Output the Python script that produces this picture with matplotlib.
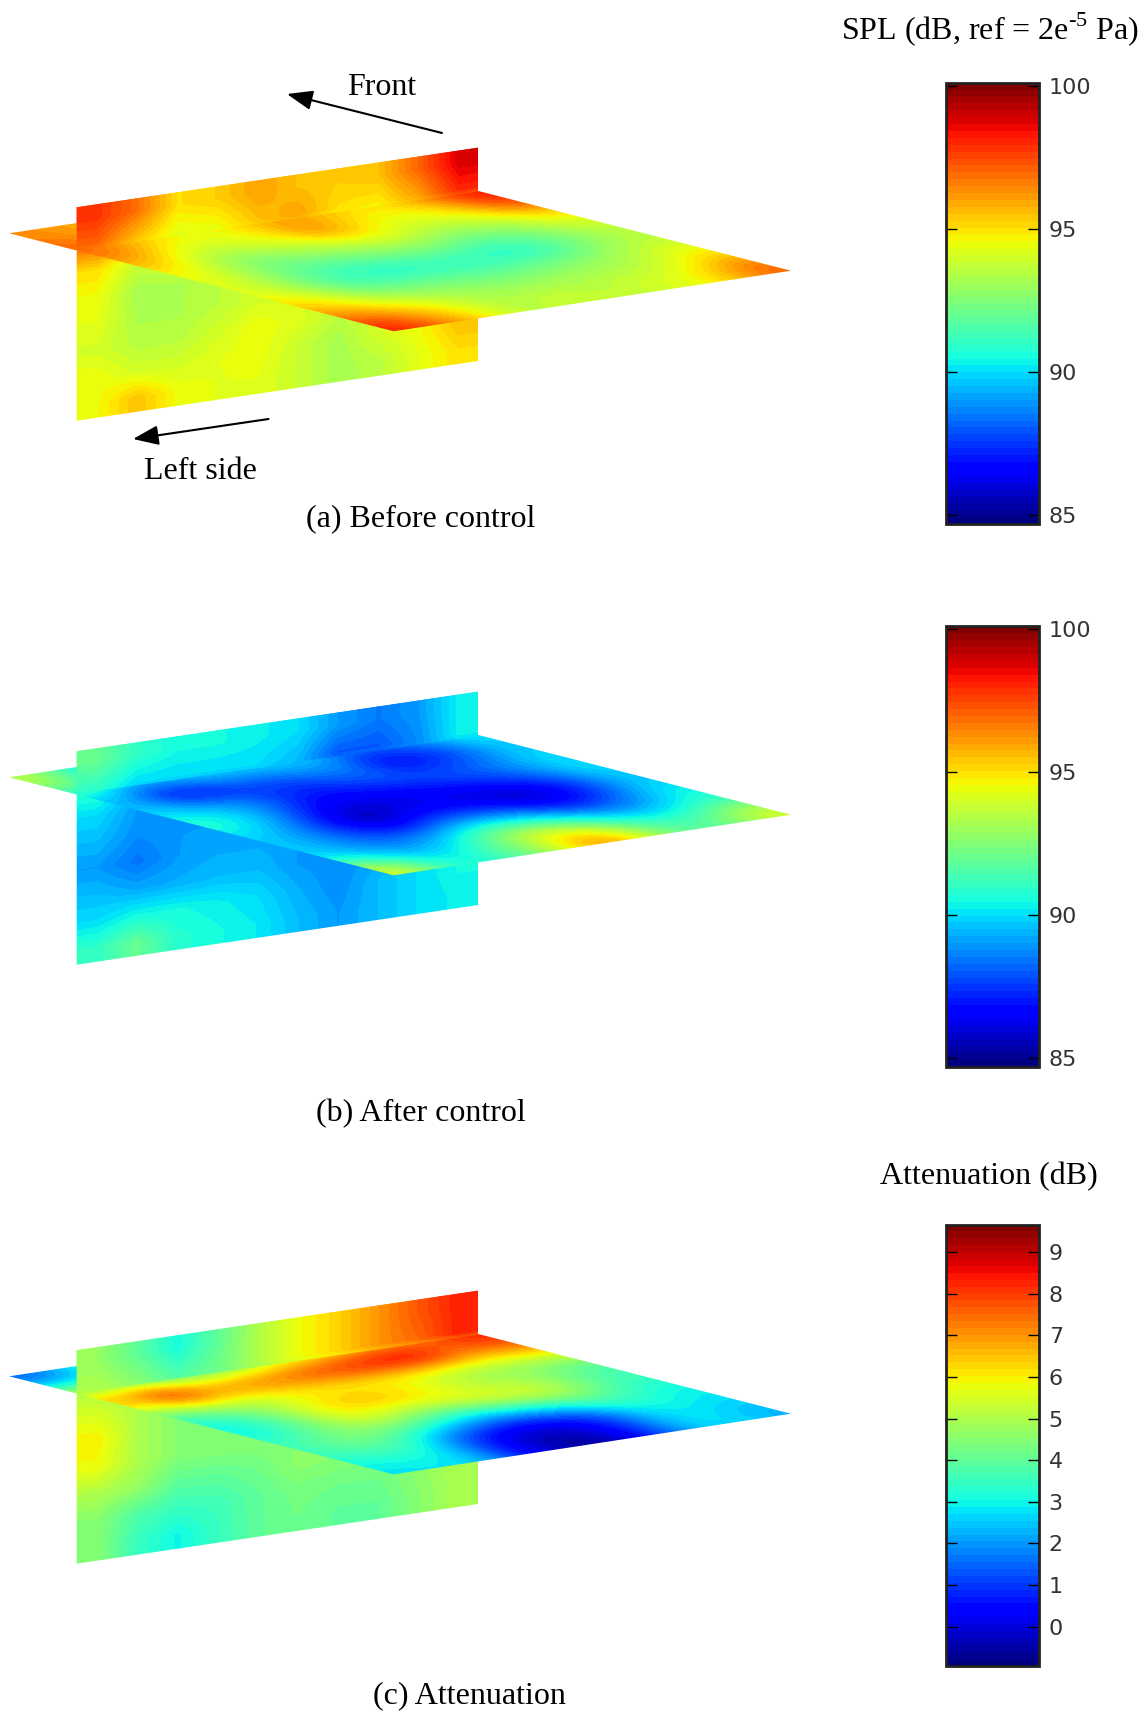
import numpy as np
import matplotlib
matplotlib.use('Agg')
import matplotlib.pyplot as plt
from matplotlib.cm import ScalarMappable
from matplotlib.colors import Normalize
from matplotlib.patches import Polygon
from matplotlib.transforms import Affine2D

plt.rcParams['font.family'] = ['Liberation Serif', 'DejaVu Serif']
plt.rcParams['mathtext.fontset'] = 'custom'
plt.rcParams['mathtext.rm'] = 'Liberation Serif'

# horizontal plane values, rows go from the back edge to the front edge
before_floor = [
    [96.3, 96.0, 95.5, 95.0, 95.5, 96.0, 96.5, 96.0, 96.0, 96.5, 98.5],
    [97.2, 96.0, 94.6, 94.3, 95.0, 95.8, 95.8, 94.9, 95.0, 96.5, 98.2],
    [96.2, 94.5, 94.0, 94.3, 95.0, 96.8, 95.3, 94.4, 94.6, 95.5, 97.8],
    [94.8, 93.5, 92.5, 93.3, 93.5, 94.0, 94.2, 93.5, 93.5, 94.0, 95.0],
    [94.3, 93.0, 92.0, 91.8, 92.2, 92.5, 92.5, 91.8, 92.0, 92.8, 93.8],
    [94.0, 92.8, 91.2, 90.7, 90.5, 91.0, 90.7, 90.5, 91.3, 92.5, 93.3],
    [95.0, 93.5, 92.3, 92.2, 92.3, 91.8, 92.0, 92.5, 92.8, 93.5, 94.0],
    [96.0, 95.0, 94.2, 93.5, 93.0, 93.0, 93.3, 93.3, 93.5, 94.0, 95.2],
    [98.0, 96.5, 95.0, 93.5, 93.6, 94.0, 93.5, 94.0, 94.3, 95.4, 97.0],
]
after_floor = [
    [93.5, 91.0, 90.0, 90.0, 90.0, 90.0, 90.0, 90.0, 90.0, 90.0, 90.5],
    [91.0, 89.5, 89.5, 90.0, 90.0, 90.0, 89.7, 88.3, 88.0, 88.8, 90.3],
    [89.0, 86.5, 86.7, 87.8, 87.8, 88.5, 88.5, 86.3, 86.8, 87.8, 89.5],
    [90.0, 89.5, 89.0, 87.5, 87.0, 87.5, 87.8, 88.0, 88.3, 89.0, 90.0],
    [91.0, 90.0, 88.0, 86.3, 86.0, 86.2, 86.5, 87.0, 87.5, 88.5, 90.0],
    [89.8, 88.5, 86.5, 84.9, 86.0, 86.5, 86.0, 85.3, 86.0, 87.5, 89.5],
    [89.5, 88.5, 87.5, 87.3, 88.8, 89.0, 88.5, 87.0, 87.3, 88.8, 90.3],
    [90.0, 89.0, 89.0, 90.5, 92.5, 93.0, 92.0, 90.5, 89.5, 90.0, 91.0],
    [94.0, 91.0, 90.5, 91.8, 93.3, 96.0, 95.5, 92.5, 91.5, 92.3, 94.0],
]
atten_floor = [
    [1.5, 2.5, 4.0, 4.0, 4.0, 4.0, 4.0, 4.0, 4.0, 4.0, 8.5],
    [5.0, 4.6, 3.9, 4.0, 4.6, 5.4, 6.0, 6.6, 7.2, 7.8, 8.3],
    [7.0, 9.0, 7.5, 7.5, 7.8, 8.2, 8.6, 9.0, 9.0, 7.5, 7.8],
    [4.5, 5.0, 5.0, 5.5, 5.7, 5.8, 5.8, 5.5, 5.0, 5.2, 5.5],
    [3.0, 3.8, 5.0, 6.3, 6.8, 6.5, 5.8, 5.0, 4.8, 4.5, 3.8],
    [3.0, 3.8, 5.0, 5.8, 5.0, 5.0, 5.5, 5.8, 5.5, 4.3, 3.6],
    [3.8, 4.5, 4.5, 3.8, 3.0, 2.2, 2.5, 3.0, 3.8, 3.5, 3.0],
    [3.5, 3.8, 3.2, 1.5, 0.3, 0.0, 0.2, 1.0, 2.6, 3.0, 2.8],
    [2.8, 2.9, 2.5, 0.8, -0.3, -0.7, 0.0, 1.3, 2.6, 2.8, 2.3],
]

# vertical plane values, rows go from top to bottom
before_wall = [
    [97.8, 96.8, 95.0, 95.3, 96.0, 95.5, 95.3, 95.5, 97.0, 98.8],
    [97.0, 95.5, 94.3, 94.5, 95.5, 96.0, 95.0, 94.8, 96.0, 98.0],
    [95.0, 93.8, 94.0, 94.0, 94.0, 94.0, 94.0, 94.0, 94.0, 94.0],
    [94.5, 93.2, 93.3, 93.5, 94.0, 94.0, 94.0, 94.0, 94.0, 94.0],
    [94.3, 93.3, 93.3, 93.6, 94.0, 94.0, 94.0, 94.0, 94.5, 95.0],
    [94.0, 93.5, 93.5, 94.0, 94.5, 94.2, 93.6, 94.0, 94.0, 95.0],
    [94.5, 94.0, 94.0, 94.3, 94.5, 93.8, 93.2, 94.0, 94.5, 95.5],
    [94.5, 95.5, 94.5, 94.3, 94.3, 93.8, 93.2, 93.5, 94.3, 95.0],
]
after_wall = [
    [92.0, 91.0, 90.5, 90.5, 90.3, 90.0, 89.0, 88.5, 89.0, 90.3],
    [91.0, 90.0, 90.0, 90.0, 90.0, 89.5, 88.0, 88.0, 88.8, 90.3],
    [90.0, 89.0, 89.0, 89.0, 89.0, 89.0, 89.0, 89.0, 89.0, 89.0],
    [89.5, 88.8, 89.0, 89.0, 89.0, 89.0, 89.0, 89.0, 89.0, 89.0],
    [89.0, 88.4, 89.0, 89.2, 89.2, 89.0, 89.0, 89.0, 89.5, 90.0],
    [89.5, 89.2, 89.3, 89.5, 89.5, 89.0, 88.8, 89.0, 89.8, 90.0],
    [90.0, 90.5, 90.5, 90.3, 90.0, 89.3, 88.8, 89.5, 90.0, 90.5],
    [91.0, 92.0, 90.8, 90.5, 90.2, 89.5, 89.0, 89.5, 90.0, 90.3],
]
atten_wall = [
    [4.7, 4.0, 3.1, 4.0, 5.0, 5.8, 6.3, 7.0, 7.7, 8.3],
    [5.0, 4.5, 3.8, 4.2, 5.0, 5.8, 6.3, 7.0, 7.5, 8.3],
    [5.5, 5.0, 4.5, 4.5, 4.5, 4.5, 4.5, 4.5, 4.5, 4.5],
    [6.0, 5.0, 4.5, 4.5, 4.5, 4.5, 4.5, 4.5, 4.5, 4.5],
    [5.8, 5.0, 4.5, 4.5, 4.5, 4.5, 4.5, 4.5, 4.5, 4.7],
    [5.0, 4.7, 4.0, 4.0, 4.2, 4.6, 4.5, 4.5, 4.6, 4.8],
    [4.5, 3.8, 3.5, 3.6, 4.0, 4.3, 4.2, 4.2, 4.6, 5.0],
    [4.5, 3.5, 3.0, 3.5, 4.0, 4.2, 4.0, 4.0, 4.5, 5.0],
]

spl_ticks = [85, 90, 95, 100]
atten_ticks = [0, 1, 2, 3, 4, 5, 6, 7, 8, 9]
spl_range = (84.67, 100.1)
atten_range = (-0.93, 9.66)

W, H = 1146, 1712
jet = plt.get_cmap('jet', 64)

fig = plt.figure(figsize=(W / 100, H / 100), dpi=100)
ax = fig.add_axes([0, 0, 1, 1])


def plane_image(values, tf, corners, norm, method, z):
    # one row/column of padding so the resampled border stays outside the clip
    z_vals = np.pad(np.array(values), 1, mode='edge')
    rows, cols = np.array(values).shape
    ext = (-1 / cols, 1 + 1 / cols, -1 / rows, 1 + 1 / rows)
    im = ax.imshow(z_vals, extent=ext, origin='lower', cmap=jet, norm=norm, aspect='auto',
                   interpolation=method, interpolation_stage='data',
                   transform=tf + ax.transData, zorder=z)
    im.set_clip_path(Polygon(corners, transform=ax.transData))


def draw_panel(floor, wall, limits, dy):
    norm = Normalize(*limits)
    wall_tf = Affine2D.from_values(401.3, -59.6, 0, 213.4, 76.7, 207.3 + dy)
    floor_tf = Affine2D.from_values(397.3, -60.6, 384.5, 98, 9.2, 233.3 + dy)
    wall_xy = [(76.7, 207.3 + dy), (478, 147.7 + dy), (478, 361 + dy), (76.7, 420.7 + dy)]
    floor_xy = [(9.2, 233.3 + dy), (406.5, 172.7 + dy), (791, 270.7 + dy), (393.7, 331.3 + dy)]
    upper_xy = [(76.7, 207.3 + dy), (478, 147.7 + dy), (478, 191.7 + dy), (76.7, 250 + dy)]
    # lower part of the wall sits behind the floor, upper part in front
    plane_image(wall, wall_tf, wall_xy, norm, 'bilinear', 1)
    plane_image(floor, floor_tf, floor_xy, norm, 'bicubic', 2)
    plane_image(wall, wall_tf, upper_xy, norm, 'bilinear', 3)


def add_bar(limits, ticks, top, bottom):
    cax = fig.add_axes([946 / W, 1 - bottom / H, 93 / W, (bottom - top) / H])
    cb = fig.colorbar(ScalarMappable(Normalize(*limits), jet), cax=cax, ticks=ticks)
    cb.outline.set_edgecolor('#222222')
    cb.outline.set_linewidth(2)
    cax.tick_params(axis='y', direction='in', left=True, right=True, labelleft=False,
                    labelright=True, length=8, width=1, pad=7, labelsize=16, labelcolor='#333333')
    for lab in cax.get_yticklabels():
        lab.set_family('DejaVu Sans')


draw_panel(before_floor, before_wall, spl_range, 0)
draw_panel(after_floor, after_wall, spl_range, 544)
draw_panel(atten_floor, atten_wall, atten_range, 1143)

add_bar(spl_range, spl_ticks, 82.7, 524)
add_bar(spl_range, spl_ticks, 626.5, 1067)
add_bar(atten_range, atten_ticks, 1224.5, 1665.5)

ax.set_xlim(0, W)
ax.set_ylim(H, 0)
ax.axis('off')

fs = 23
ax.text(382, 87, 'Front', fontsize=fs, ha='center', va='center')
ax.text(200, 471, 'Left side', fontsize=fs, ha='center', va='center')
ax.text(421, 519, '(a) Before control', fontsize=fs, ha='center', va='center')
ax.text(421, 1114, '(b) After control', fontsize=fs, ha='center', va='center')
ax.text(469, 1696, '(c) Attenuation', fontsize=fs, ha='center', va='center')
ax.text(989, 1177, 'Attenuation (dB)', fontsize=fs, ha='center', va='center')
ax.text(990, 29, r'SPL (dB, ref = 2e$^{\mathrm{\text{-}5}}$ Pa)', fontsize=fs, ha='center', va='center')

arrow = dict(arrowstyle='-|>,head_width=0.25,head_length=0.65', color='k', lw=1.5,
             mutation_scale=24, shrinkA=0, shrinkB=0)
ax.annotate('', xy=(287, 94), xytext=(442, 133), arrowprops=arrow)
ax.annotate('', xy=(133, 439), xytext=(268.5, 419), arrowprops=arrow)

fig.savefig('out.png', dpi=100)
